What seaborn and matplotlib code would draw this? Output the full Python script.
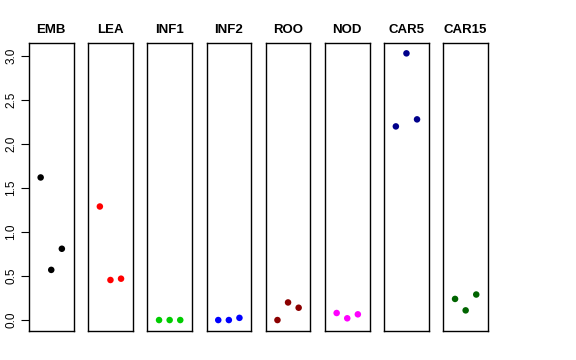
import numpy as np
import pandas as pd
import matplotlib
matplotlib.use("Agg")
import matplotlib.pyplot as plt
import seaborn as sns

# values per tissue, three replicates each
tissues = ["EMB", "LEA", "INF1", "INF2", "ROO", "NOD", "CAR5", "CAR15"]
emb = [1.62, 0.57, 0.81]
lea = [1.29, 0.455, 0.47]
inf1 = [0.0, 0.0, 0.0]
inf2 = [0.0, 0.0, 0.025]
roo = [0.0, 0.20, 0.14]
nod = [0.08, 0.02, 0.065]
car5 = [2.20, 3.03, 2.28]
car15 = [0.24, 0.11, 0.29]
colors = ["black", "red", "#00CD00", "blue", "#8B0000", "magenta", "#00008B", "#006400"]
yticks = [0.0, 0.5, 1.0, 1.5, 2.0, 2.5, 3.0]

values = [emb, lea, inf1, inf2, roo, nod, car5, car15]
rep = [1, 2, 3]

sns.set_style("white")
plt.rcParams["font.family"] = ["Liberation Sans", "DejaVu Sans"]
plt.rcParams["text.color"] = "black"
plt.rcParams["ytick.labelcolor"] = "black"

W, H = 576, 360
fig = plt.figure(figsize=(W / 100, H / 100), dpi=100)

left0, step, width = 29, 59.2, 44.5
top, bottom = 42.7, 330.7
ylo, yhi = -0.121, 3.151

for i, (name, vals, col) in enumerate(zip(tissues, values, colors)):
    x0 = left0 + i * step
    ax = fig.add_axes([x0 / W, 1 - bottom / H, width / W, (bottom - top) / H])
    df = pd.DataFrame({"rep": rep, "val": vals})
    sns.scatterplot(data=df, x="rep", y="val", color=col, s=22,
                    edgecolor="none", ax=ax, legend=False)
    ax.set_xlim(-0.1, 4.1)
    ax.set_ylim(ylo, yhi)
    ax.set_xticks([])
    ax.set_xlabel("")
    ax.set_ylabel("")
    for sp in ax.spines.values():
        sp.set_color("black")
        sp.set_linewidth(1.0)
    ax.set_title(name, fontsize=9.5, fontweight="bold", pad=7, color="black")
    if i == 0:
        ax.set_yticks(yticks)
        ax.set_yticklabels([f"{t:.1f}" for t in yticks], rotation=90,
                           va="center", fontsize=8.5, color="black")
        ax.tick_params(axis="y", left=True, length=5.5, width=0.8,
                       color="black", pad=3)
    else:
        ax.set_yticks([])

fig.savefig("out.png", dpi=100)
